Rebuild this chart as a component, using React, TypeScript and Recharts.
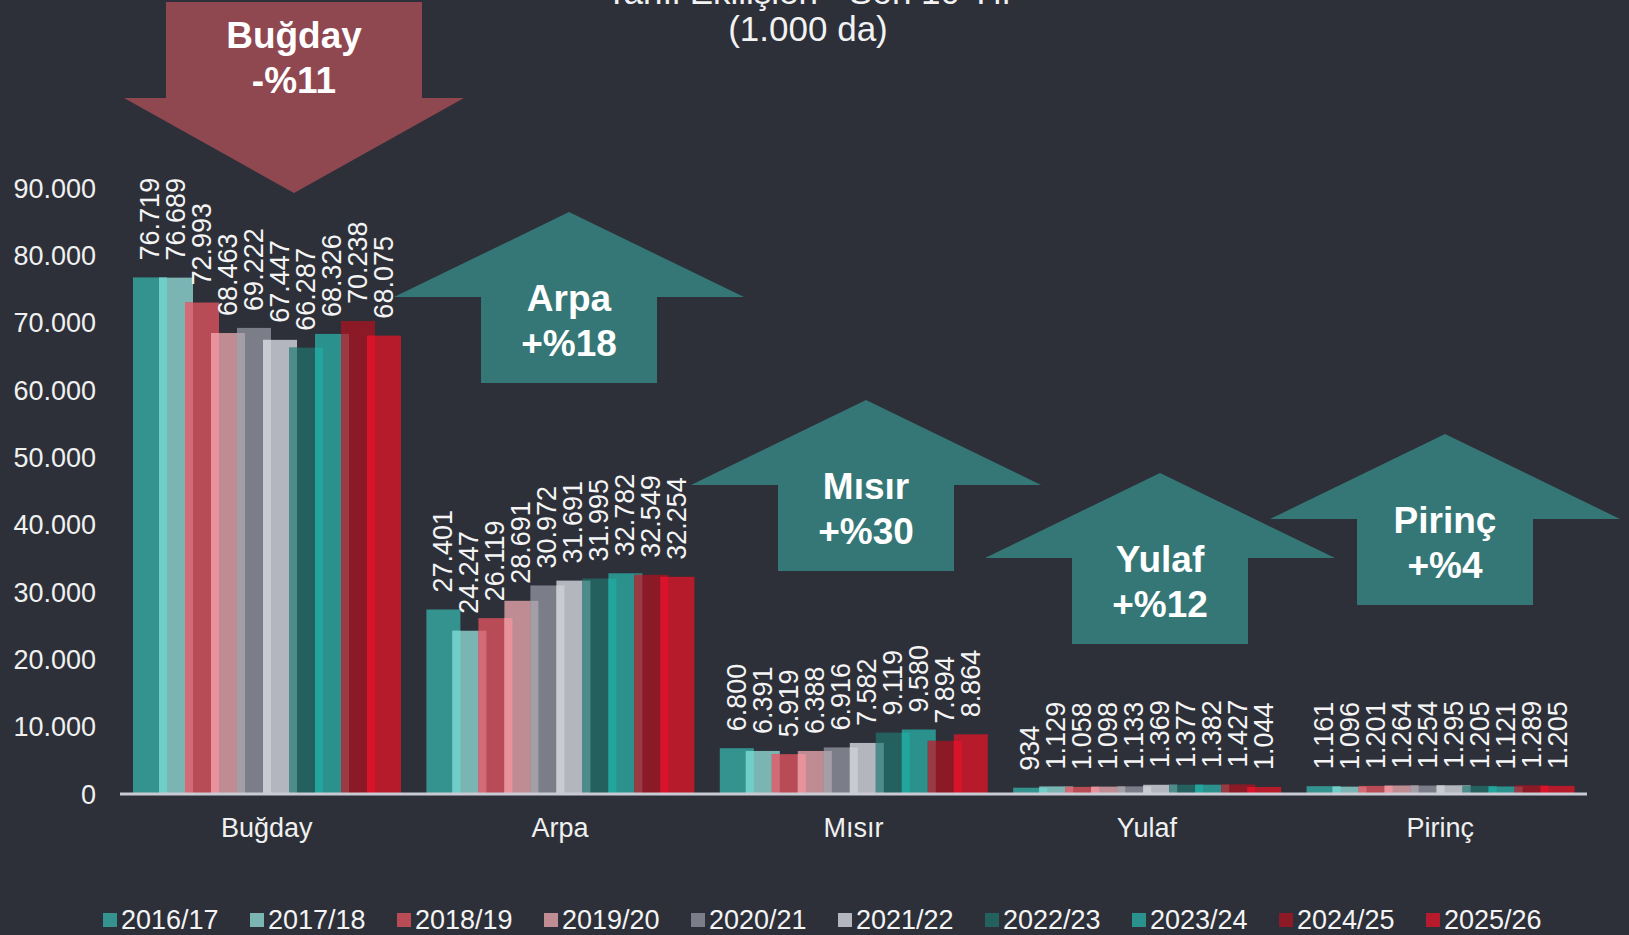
import React from "react";
import { Bar, BarChart, LabelList, Legend, XAxis, YAxis } from "recharts";

const crops = ["Buğday", "Arpa", "Mısır", "Yulaf", "Pirinç"];
const seasons = ["2016/17", "2017/18", "2018/19", "2019/20", "2020/21", "2021/22", "2022/23", "2023/24", "2024/25", "2025/26"];

const bugday = [76719, 76689, 72993, 68463, 69222, 67447, 66287, 68326, 70238, 68075];
const arpa = [27401, 24247, 26119, 28691, 30972, 31691, 31995, 32782, 32549, 32254];
const misir = [6800, 6391, 5919, 6388, 6916, 7582, 9119, 9580, 7894, 8864];
const yulaf = [934, 1129, 1058, 1098, 1133, 1369, 1377, 1382, 1427, 1044];
const pirinc = [1161, 1096, 1201, 1264, 1254, 1295, 1205, 1121, 1289, 1205];

const yTicks = [0, 10000, 20000, 30000, 40000, 50000, 60000, 70000, 80000, 90000];

// change vs. first season, shown in the arrows
const changes = ["-%11", "+%18", "+%30", "+%12", "+%4"];

const colors = ["#35938f", "#7ab5b3", "#b84b55", "#c08c94", "#7b7e88", "#b4b6bf", "#23605e", "#2a918d", "#8b1a26", "#b61b2b"];
// lighter tone where a bar sits over its neighbour
const overlapColors = ["", "#6fcfc8", "#d26b75", "#e8939c", "#a49ea6", "#c9cbd3", "#4d8c8a", "#22a59d", "#9a3a44", "#d8132a"];

const rows = [bugday, arpa, misir, yulaf, pirinc];
const data = crops.map((name, i) => {
  const row: Record<string, string | number> = { name };
  seasons.forEach((s, j) => {
    row[s] = rows[i][j];
  });
  return row;
});

const FONT = "'Liberation Sans', Arial, sans-serif";
const BG = "#2d3039";
const BAR = 34;
const GAP = -8;

const fmt = (v: number) => String(v).replace(/\B(?=(\d{3})+(?!\d))/g, ".");

function makeShape(idx: number) {
  return (props: any) => {
    const { x, y, width, height, payload } = props;
    if (!height || height <= 0) return <g />;
    const value = payload[seasons[idx]] as number;
    const bottom = y + height;
    let strip = null;
    if (idx > 0) {
      const prev = payload[seasons[idx - 1]] as number;
      const prevTop = bottom - (prev * height) / value;
      const top = Math.max(y, prevTop);
      strip = <rect x={x} y={top} width={-GAP} height={bottom - top} fill={overlapColors[idx]} />;
    }
    return (
      <g>
        <rect x={x} y={y} width={width} height={height} fill={colors[idx]} />
        {strip}
      </g>
    );
  };
}

function ValueLabel(props: any) {
  const { x, y, width, value } = props;
  const cx = x + width / 2;
  const ty = y - 17;
  return (
    <text
      x={cx}
      y={ty}
      transform={`rotate(-90 ${cx} ${ty})`}
      textAnchor="start"
      dominantBaseline="central"
      fill="#f4f4f4"
      fontSize={27}
      fontFamily={FONT}
    >
      {fmt(value)}
    </text>
  );
}

function LegendBox() {
  return (
    <div style={{ display: "flex", alignItems: "center", height: 50, paddingTop: 20, paddingLeft: 103, boxSizing: "border-box" }}>
      {seasons.map((s, i) => (
        <div key={s} style={{ display: "flex", alignItems: "center", width: 147, flex: "0 0 147px" }}>
          <span style={{ width: 14, height: 14, background: colors[i], marginRight: 4, display: "inline-block" }} />
          <span style={{ color: "#f4f4f4", fontSize: 27, fontFamily: FONT, lineHeight: "30px", whiteSpace: "nowrap" }}>{s}</span>
        </div>
      ))}
    </div>
  );
}

type Arrow = { cx: number; tipY: number; up: boolean; color: string };
const arrows: Arrow[] = [
  { cx: 294, tipY: 193, up: false, color: "#8f4750" },
  { cx: 569, tipY: 212, up: true, color: "#357776" },
  { cx: 866, tipY: 400, up: true, color: "#357776" },
  { cx: 1160, tipY: 473, up: true, color: "#357776" },
  { cx: 1445, tipY: 434, up: true, color: "#357776" },
];

function arrowPoints(a: Arrow) {
  if (a.up) {
    const hw = 175, hh = 85, sw = 88, sh = 86;
    const b = a.tipY + hh;
    return [
      [a.cx, a.tipY], [a.cx + hw, b], [a.cx + sw, b], [a.cx + sw, b + sh],
      [a.cx - sw, b + sh], [a.cx - sw, b], [a.cx - hw, b],
    ];
  }
  const hw = 170, hh = 95, sw = 128, top = 2;
  const b = a.tipY - hh;
  return [
    [a.cx - sw, top], [a.cx + sw, top], [a.cx + sw, b], [a.cx + hw, b],
    [a.cx, a.tipY], [a.cx - hw, b], [a.cx - sw, b],
  ];
}

function Arrows() {
  return (
    <svg width={1629} height={935} style={{ position: "absolute", left: 0, top: 0, pointerEvents: "none" }}>
      {arrows.map((a, i) => {
        const pts = arrowPoints(a).map((p) => p.join(",")).join(" ");
        const line1 = a.up ? a.tipY + 86 : 35;
        return (
          <g key={crops[i]}>
            <polygon points={pts} fill={a.color} />
            <text x={a.cx} y={line1} textAnchor="middle" dominantBaseline="central" fill="#fff" fontSize={37} fontWeight="bold" fontFamily={FONT}>
              {crops[i]}
            </text>
            <text x={a.cx} y={line1 + 45} textAnchor="middle" dominantBaseline="central" fill="#fff" fontSize={37} fontWeight="bold" fontFamily={FONT}>
              {changes[i]}
            </text>
          </g>
        );
      })}
    </svg>
  );
}

export default function App() {
  return (
    <div style={{ position: "fixed", left: 0, top: 0, width: 1629, height: 935, background: BG, overflow: "hidden" }}>
      <div style={{ position: "absolute", left: 0, width: 1616, top: -27, textAlign: "center", color: "#f2f2f2", fontFamily: FONT, fontSize: 35, lineHeight: "37px" }}>
        <div>Tahıl Ekilişleri - Son 10 Yıl</div>
        <div>(1.000 da)</div>
      </div>
      <BarChart width={1629} height={935} data={data} margin={{ top: 188, right: 42, left: 0, bottom: 0 }} barSize={BAR} barGap={GAP}>
        <XAxis
          dataKey="name"
          height={91}
          tickLine={false}
          tickSize={0}
          tickMargin={24}
          axisLine={{ stroke: "#c9cad3", strokeWidth: 3 }}
          tick={{ fill: "#f0f0f0", fontSize: 27, fontFamily: FONT }}
        />
        <YAxis
          width={120}
          domain={[0, 90000]}
          ticks={yTicks}
          interval={0}
          axisLine={false}
          tickLine={false}
          tickSize={0}
          tickMargin={24}
          tickFormatter={fmt}
          tick={{ fill: "#f0f0f0", fontSize: 27, fontFamily: FONT }}
        />
        <Legend verticalAlign="bottom" height={50} content={() => <LegendBox />} />
        {seasons.map((s, i) => (
          <Bar key={s} dataKey={s} fill={colors[i]} shape={makeShape(i)} isAnimationActive={false}>
            <LabelList dataKey={s} content={ValueLabel} />
          </Bar>
        ))}
      </BarChart>
      <Arrows />
    </div>
  );
}
